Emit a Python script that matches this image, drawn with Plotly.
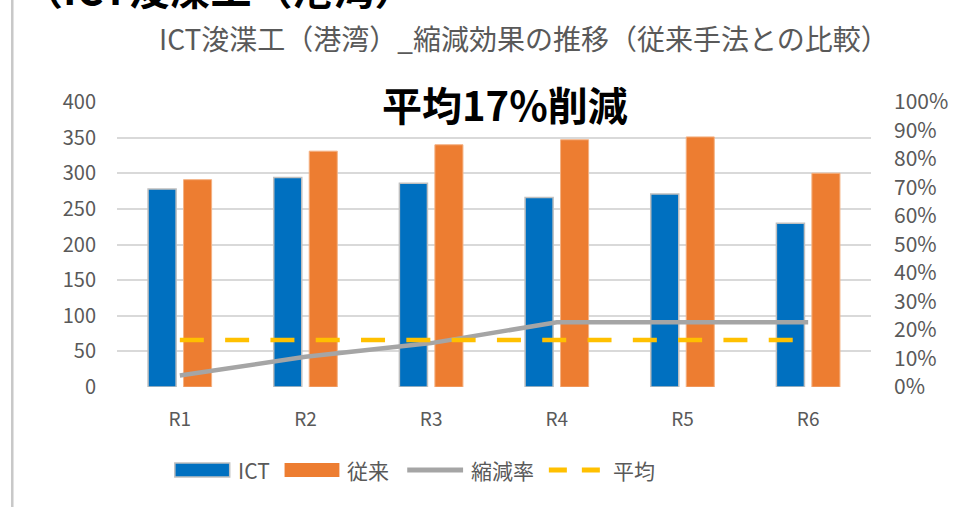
import plotly.graph_objects as go

# ── Data ──────────────────────────────────────────────────────────────────────
categories = ["R1", "R2", "R3", "R4", "R5", "R6"]
ict_vals   = [278, 294, 286, 266, 271, 230]
conv_vals  = [291, 331, 340, 347, 351, 300]
rate_vals  = [0.040, 0.106, 0.154, 0.227, 0.227, 0.227]
avg_vals   = [0.165] * 6

left_ticks  = [0, 50, 100, 150, 200, 250, 300, 350, 400]
right_ticks = [i / 10 for i in range(11)]

# ── Colours / fonts ───────────────────────────────────────────────────────────
BLUE   = "#0070C0"
ORANGE = "#ED7D31"
GRAYL  = "#A5A5A5"
GOLD   = "#FFC000"
TXT    = "#595959"
GRID   = "#D9D9D9"
FONT   = "Noto Sans CJK JP"

W, H = 960, 507
L, R, T, B = 117, 87, 102, 120
PW, PH = W - L - R, H - T - B


def px(x):
    return (x - L) / PW


def py(y):
    return (H - B - y) / PH


fig = go.Figure()

fig.add_trace(go.Bar(x=categories, y=ict_vals, name="ICT",
                     marker=dict(color=BLUE, line=dict(color="#BFBFBF", width=1.5))))
fig.add_trace(go.Bar(x=categories, y=conv_vals, name="従来",
                     marker=dict(color=ORANGE, line=dict(color="#F4B183", width=1))))
fig.add_trace(go.Scatter(x=categories, y=rate_vals, name="縮減率", yaxis="y2",
                         mode="lines", line=dict(color=GRAYL, width=4.5)))
fig.add_trace(go.Scatter(x=categories, y=avg_vals, name="平均", yaxis="y2",
                         mode="lines", line=dict(color=GOLD, width=4.5, dash="24px,21.3px")))

# ── Axes ──────────────────────────────────────────────────────────────────────
fig.update_layout(
    xaxis=dict(range=[-0.5, 5.5], showgrid=False, zeroline=False, showline=False,
               ticks="", tickfont=dict(size=19, color=TXT, family=FONT),
               ticklabelstandoff=19),
    yaxis=dict(range=[0, 400], tickvals=left_ticks, showgrid=True, gridcolor=GRID,
               gridwidth=1.5, zeroline=False, ticks="",
               tickfont=dict(size=20, color=TXT, family=FONT), ticklabelstandoff=20),
    yaxis2=dict(range=[0, 1], tickvals=right_ticks, tickformat=".0%", overlaying="y",
                side="right", showgrid=False, zeroline=False, ticks="",
                tickfont=dict(size=21, color=TXT, family=FONT), ticklabelstandoff=22),
    barmode="group", bargap=0.435, bargroupgap=0.21,
)

# ── Texts ─────────────────────────────────────────────────────────────────────
txt_style = dict(xref="paper", yref="paper", showarrow=False, yanchor="middle")
fig.add_annotation(x=px(525), y=py(38), xanchor="center",
                   text="ICT浚渫工（港湾）_縮減効果の推移（従来手法との比較）",
                   font=dict(size=28, color=TXT, family=FONT), **txt_style)
fig.add_annotation(x=px(506), y=py(104), xanchor="center",
                   text="<b>平均17%削減</b>",
                   font=dict(size=40, color="#000000", family=FONT), **txt_style)
# slide heading above the chart, mostly outside the visible frame
fig.add_annotation(x=px(20), y=py(-13), xanchor="left",
                   text="<b>（ICT浚渫工（港湾）</b>",
                   font=dict(size=41, color="#000000", family=FONT), **txt_style)

# left border of the chart box
fig.add_shape(type="line", xref="paper", yref="paper", x0=px(12), x1=px(12),
              y0=py(H), y1=py(0), line=dict(color="#C8C8C8", width=2.5))

# ── Manual legend ─────────────────────────────────────────────────────────────
LY = 470
fig.add_shape(type="rect", xref="paper", yref="paper", x0=px(175), x1=px(230),
              y0=py(477), y1=py(463), fillcolor=BLUE, line=dict(color="#BFBFBF", width=1.5))
fig.add_shape(type="rect", xref="paper", yref="paper", x0=px(285), x1=px(340),
              y0=py(477), y1=py(463), fillcolor=ORANGE, line=dict(width=0))
fig.add_shape(type="line", xref="paper", yref="paper", x0=px(408), x1=px(464),
              y0=py(LY), y1=py(LY), line=dict(color=GRAYL, width=5))
fig.add_shape(type="line", xref="paper", yref="paper", x0=px(550), x1=px(602),
              y0=py(LY), y1=py(LY), line=dict(color=GOLD, width=5, dash="18px,15px"))
for lx, label in [(236, "ICT"), (346, "従来"), (470, "縮減率"), (612, "平均")]:
    fig.add_annotation(x=px(lx), y=py(LY), xanchor="left", text=label,
                       font=dict(size=21, color=TXT, family=FONT), **txt_style)

fig.update_layout(
    width=W, height=H,
    margin=dict(l=L, r=R, t=T, b=B),
    paper_bgcolor="#ffffff", plot_bgcolor="#ffffff",
    showlegend=False,
    font=dict(family=FONT, color=TXT),
)

# drop the default 8px page margin so the figure sits at the window origin
fig.write_html("out.html", config={"displayModeBar": False},
               post_script="document.body.style.margin='0';")
